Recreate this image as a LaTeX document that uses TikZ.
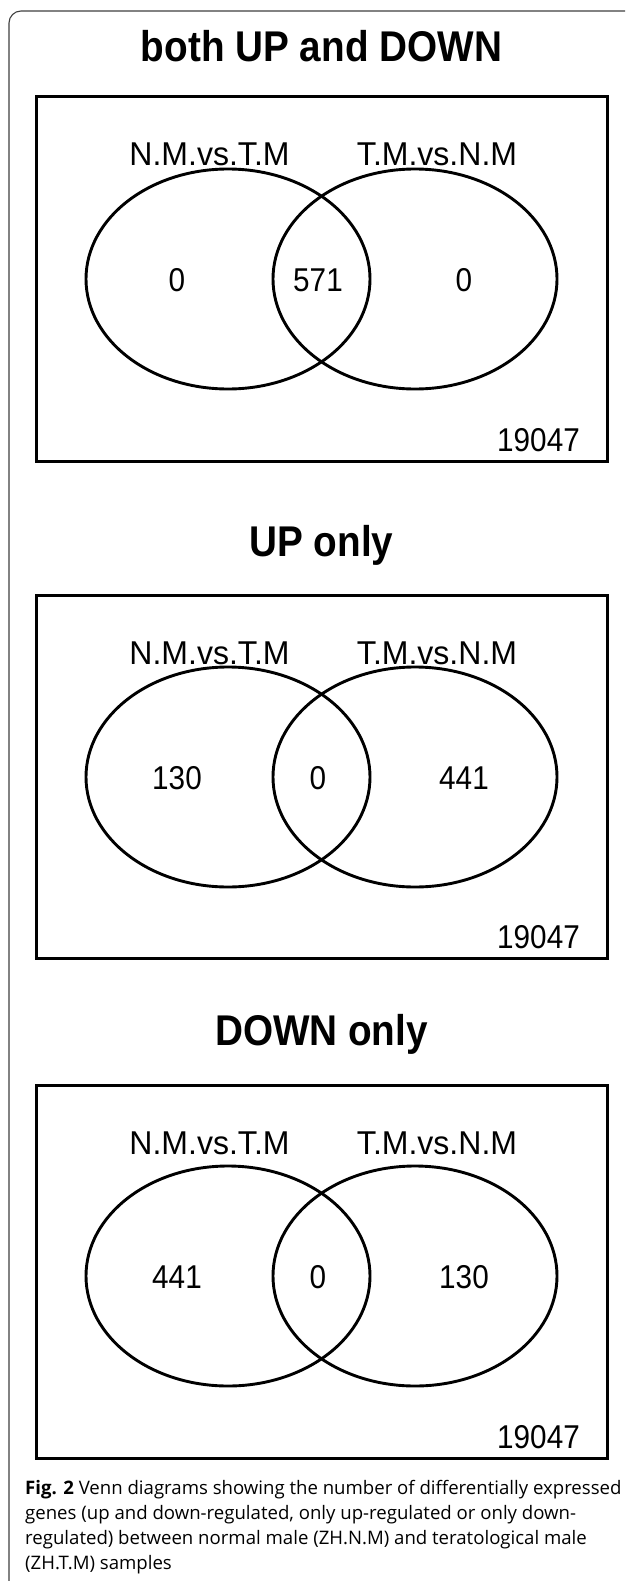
\documentclass[tikz,border=0pt]{standalone}
\usepackage{fontspec}
\setmainfont[FakeStretch=0.9]{Liberation Sans}
\newfontfamily\setfont[FakeStretch=0.97]{Liberation Sans}
\newfontfamily\capfont{Open Sans}
\usetikzlibrary{shapes.geometric}

\tikzset{
  frame/.style={line width=1.1pt, draw=black!75, rounded corners=12pt},
  panelbox/.style={draw, line width=3pt, rectangle, inner sep=0pt,
    minimum width=571pt},
  vennset/.style={draw, line width=2.9pt, ellipse, inner sep=0pt,
    minimum width=284pt, minimum height=220pt},
  paneltitle/.style={font=\fontsize{43}{50}\selectfont\bfseries, anchor=base, inner sep=0pt},
  setlabel/.style={font=\setfont\fontsize{33}{38}\selectfont, anchor=base, inner sep=0pt},
  count/.style={font=\fontsize{33}{38}\selectfont, anchor=base, inner sep=0pt},
  total/.style={font=\fontsize{33}{38}\selectfont, anchor=base east, inner sep=0pt},
  capline/.style={font=\capfont\fontsize{18.6}{25}\selectfont, anchor=base west, inner sep=0pt},
}

% One Venn panel: #1 name prefix, #2 box top, #3 box bottom, #4 centre line
% of the two sets, #5 title, #6 title baseline, #7/#8/#9 the three counts
\newcommand\vennpanel[9]{%
  \node[paneltitle] (#1title) at (321.5, #6) {#5};
  \node[panelbox, minimum height={(#3)-(#2)}] (#1box) at (321.5, {((#2)+(#3))/2}) {};
  \node[vennset] (#1L) at (228, #4) {};
  \node[vennset] (#1R) at (415, #4) {};
  \node[setlabel] (#1labL) at (209.5, #2+69) {N.M.vs.T.M};
  \node[setlabel] (#1labR) at (437, #2+69) {T.M.vs.N.M};
  \node[count] (#1cL) at (177, #4+12) {#7};
  \node[count] (#1cM) at (318, #4+12) {#8};
  \node[count] (#1cR) at (464, #4+12) {#9};
  \node[total] (#1tot) at (580, #3-10) {19047};
}

\begin{document}
\begin{tikzpicture}[x=1pt, y=-1pt]
  \useasboundingbox (0,0) rectangle (625,1581);
  \clip (0,0) rectangle (625,1581);
  \fill[white] (0,0) rectangle (625,1581);

  % outer figure frame (only its top-left part is visible)
  \draw[frame] (9,1600) -- (9,11) -- (660,11);

  \vennpanel{p1}{97}{461}{279}{both UP and DOWN}{62}{0}{571}{0}
  \vennpanel{p2}{595}{958}{777}{UP only}{556}{130}{0}{441}
  \vennpanel{p3}{1085}{1458}{1276}{DOWN only}{1045}{441}{0}{130}

  % caption
  \node[capline] (cap1) at (25,1494) {\textbf{Fig. 2} Venn diagrams showing the number of differentially expressed};
  \node[capline] (cap2) at (25,1519) {genes (up and down-regulated, only up-regulated or only down-};
  \node[capline] (cap3) at (25,1544) {regulated) between normal male (ZH.N.M) and teratological male};
  \node[capline] (cap4) at (25,1569) {(ZH.T.M) samples};
\end{tikzpicture}
\end{document}
